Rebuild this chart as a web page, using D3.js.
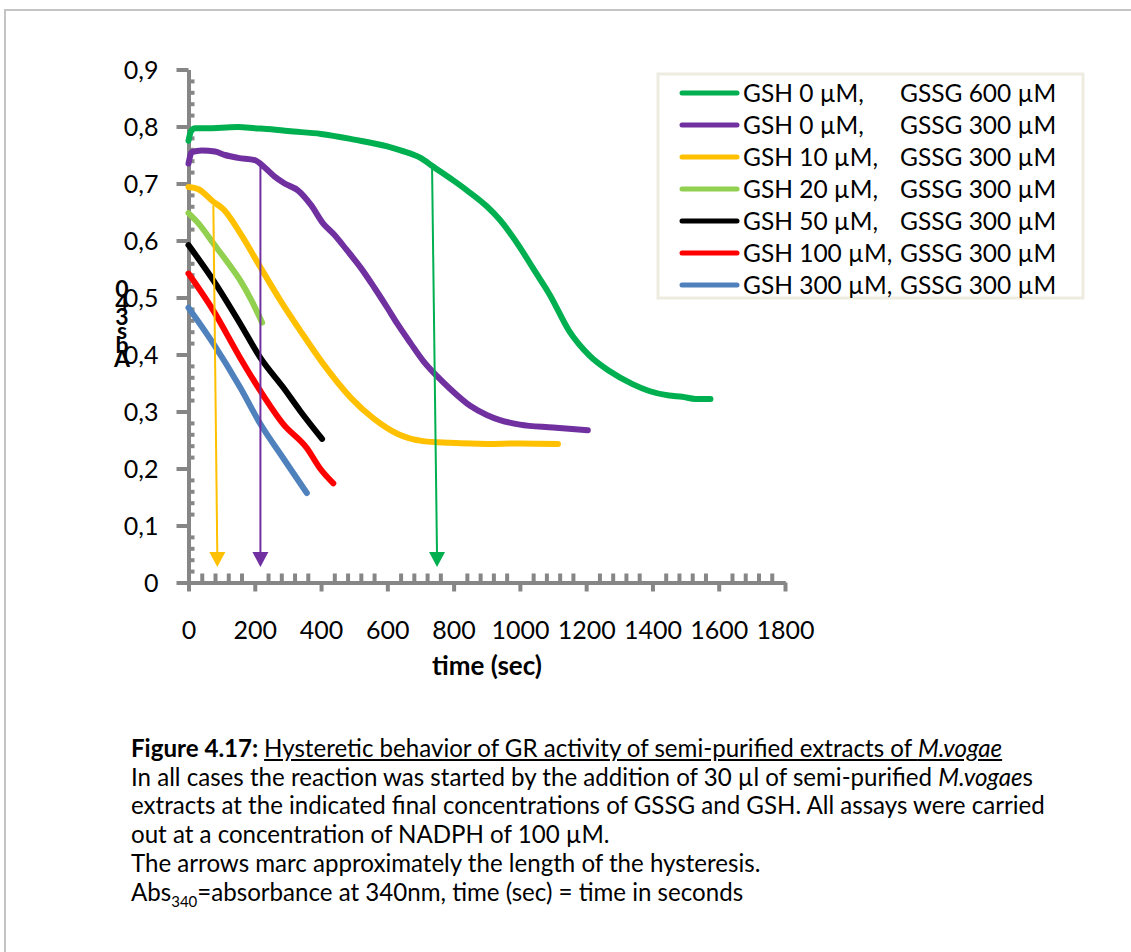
<!DOCTYPE html>
<meta charset="utf-8">
<style>
body {
  margin: 0;
  font-family: Lato, "Open Sans", sans-serif;
  background: #fff;
}

.axis path, .axis line {
  stroke: #868686;
  stroke-width: 4;
}

.caption {
  position: absolute;
  left: 131px;
  top: 734px;
  font-size: 24.1px;
  line-height: 28.7px;
  white-space: nowrap;
}
</style>
<body>
<script src="https://cdn.jsdelivr.net/npm/d3@7/dist/d3.min.js"></script>
<script>

var width = 1131,
    height = 952;

// absorbance readings (Abs340) against time in seconds
var greenT  = [0, 8, 20, 60, 100, 150, 200, 250, 300, 400, 500, 600, 640, 700, 740, 800, 840, 900, 940, 1000, 1040, 1090, 1150, 1210, 1270, 1340, 1390, 1450, 1490, 1530, 1575];
var greenV  = [0.775, 0.792, 0.797, 0.797, 0.798, 0.799, 0.797, 0.795, 0.792, 0.787, 0.777, 0.765, 0.758, 0.745, 0.729, 0.705, 0.688, 0.66, 0.636, 0.588, 0.551, 0.505, 0.44, 0.398, 0.371, 0.348, 0.336, 0.328, 0.326, 0.322, 0.322];

var purpleT = [0, 10, 40, 80, 110, 150, 200, 230, 260, 290, 330, 370, 406, 440, 478, 520, 560, 600, 630, 670, 708, 750, 789, 850, 900, 940, 1000, 1100, 1205];
var purpleV = [0.735, 0.755, 0.758, 0.756, 0.750, 0.745, 0.741, 0.728, 0.712, 0.700, 0.688, 0.662, 0.630, 0.610, 0.583, 0.552, 0.518, 0.482, 0.454, 0.420, 0.389, 0.362, 0.340, 0.310, 0.294, 0.285, 0.277, 0.272, 0.267];

var yellowT = [0, 30, 75, 105, 156, 217, 277, 337, 406, 490, 560, 630, 708, 789, 900, 1000, 1115];
var yellowV = [0.694, 0.690, 0.668, 0.655, 0.613, 0.553, 0.495, 0.442, 0.384, 0.324, 0.287, 0.261, 0.248, 0.245, 0.243, 0.244, 0.243];

var lgreenT = [0, 30, 75, 120, 156, 190, 222];
var lgreenV = [0.648, 0.630, 0.595, 0.560, 0.530, 0.495, 0.456];

var blackT  = [0, 75, 156, 217, 286, 337, 403];
var blackV  = [0.592, 0.530, 0.454, 0.394, 0.342, 0.301, 0.252];

var redT    = [0, 75, 156, 217, 286, 357, 397, 437];
var redV    = [0.542, 0.477, 0.394, 0.336, 0.278, 0.236, 0.200, 0.174];

var blueT   = [0, 75, 156, 217, 286, 357];
var blueV   = [0.482, 0.419, 0.342, 0.278, 0.218, 0.157];

var seriesNames = [
  ["GSH 0 \u00b5M,", "GSSG 600 \u00b5M"],
  ["GSH 0 \u00b5M,", "GSSG 300 \u00b5M"],
  ["GSH 10 \u00b5M,", "GSSG 300 \u00b5M"],
  ["GSH 20 \u00b5M,", "GSSG 300 \u00b5M"],
  ["GSH 50 \u00b5M,", "GSSG 300 \u00b5M"],
  ["GSH 100 \u00b5M,", "GSSG 300 \u00b5M"],
  ["GSH 300 \u00b5M,", "GSSG 300 \u00b5M"]
];
var seriesColors = ["#00b050", "#7030a0", "#ffc000", "#92d050", "#000000", "#ff0000", "#4f81bd"];

// hysteresis arrows: start (time, value) on the curve, end time at the axis
var arrowColors = ["#ffc000", "#7030a0", "#00b050"];
var arrowT0 = [75, 217, 735];
var arrowV0 = [0.662, 0.732, 0.727];
var arrowT1 = [87, 217, 750];
var arrowTipV = 0.027;

var xTicks = [0, 200, 400, 600, 800, 1000, 1200, 1400, 1600, 1800];
var yTicks = [0, 0.1, 0.2, 0.3, 0.4, 0.5, 0.6, 0.7, 0.8, 0.9];

var series = [
  [greenT, greenV], [purpleT, purpleV], [yellowT, yellowV], [lgreenT, lgreenV],
  [blackT, blackV], [redT, redV], [blueT, blueV]
].map(function(s, i) {
  return {
    color: seriesColors[i],
    name: seriesNames[i],
    values: s[0].map(function(t, j) { return {t: t, v: s[1][j]}; })
  };
});

var x = d3.scaleLinear().domain([0, 1800]).range([188.5, 785]);
var y = d3.scaleLinear().domain([0, 0.9]).range([582.5, 69.5]);

var svg = d3.select("body").append("svg")
    .attr("width", width)
    .attr("height", height)
    .style("position", "absolute")
    .style("left", 0)
    .style("top", 0);

// page frame (top and left edge visible)
svg.append("path")
    .attr("d", "M5," + height + "V10H" + width)
    .style("fill", "none")
    .style("stroke", "#c4c4c4")
    .style("stroke-width", 2);

var comma = function(d) { return d === 0 ? "0" : d3.format(".1f")(d).replace(".", ","); };

// minor ticks first, inside the plot
svg.append("g")
    .attr("class", "axis")
    .attr("transform", "translate(0," + y(0) + ")")
    .call(d3.axisBottom(x)
      .tickValues(d3.range(40, 1800, 40).filter(function(d) { return d % 200 !== 0; }))
      .tickSizeInner(-9).tickSizeOuter(0).tickFormat(""));

svg.append("g")
    .attr("class", "axis")
    .attr("transform", "translate(" + x(0) + ",0)")
    .call(d3.axisLeft(y)
      .tickValues(d3.range(1, 45).map(function(d) { return d / 50; }).filter(function(d) { return Math.round(d * 50) % 5 !== 0; }))
      .tickSizeInner(-6).tickSizeOuter(0).tickFormat(""));

var xAxis = svg.append("g")
    .attr("class", "axis")
    .attr("transform", "translate(0," + y(0) + ")")
    .call(d3.axisBottom(x).tickValues(xTicks).tickSizeInner(9).tickSizeOuter(0).tickFormat(d3.format("d")));

xAxis.selectAll("text")
    .attr("y", 56)
    .attr("dy", 0)
    .style("font-family", "Lato")
    .style("font-size", "25px")
    .style("fill", "#000");

var yAxis = svg.append("g")
    .attr("class", "axis")
    .attr("transform", "translate(" + x(0) + ",0)")
    .call(d3.axisLeft(y).tickValues(yTicks).tickSizeInner(12).tickSizeOuter(0).tickFormat(comma));

yAxis.selectAll("text")
    .attr("x", -30)
    .attr("dy", "0.36em")
    .style("font-family", "Lato")
    .style("font-size", "25px")
    .style("fill", "#000");

// axis titles
svg.append("text")
    .attr("x", 487)
    .attr("y", 675)
    .attr("text-anchor", "middle")
    .style("font-size", "26px")
    .style("font-weight", "bold")
    .text("time (sec)");

// the y title collapsed into a stack of letters, bottom to top
svg.append("g").selectAll("text")
    .data("Abs340".split(""))
  .enter().append("text")
    .attr("x", 122)
    .attr("y", function(d, i) { return 367 - i * 14; })
    .attr("text-anchor", "middle")
    .style("font-size", "23px")
    .style("font-weight", "bold")
    .text(function(d) { return d; });

var line = d3.line()
    .x(function(d) { return x(d.t); })
    .y(function(d) { return y(d.v); })
    .curve(d3.curveMonotoneX);

svg.append("g").selectAll("path")
    .data(series)
  .enter().append("path")
    .attr("d", function(d) { return line(d.values); })
    .style("fill", "none")
    .style("stroke", function(d) { return d.color; })
    .style("stroke-width", 6)
    .style("stroke-linecap", "round")
    .style("stroke-linejoin", "round");

// arrows
var arrows = svg.append("g").selectAll("g")
    .data(arrowColors)
  .enter().append("g");

arrows.append("line")
    .attr("x1", function(d, i) { return x(arrowT0[i]); })
    .attr("y1", function(d, i) { return y(arrowV0[i]); })
    .attr("x2", function(d, i) { return x(arrowT1[i]); })
    .attr("y2", y(arrowTipV) - 10)
    .style("stroke", function(d) { return d; })
    .style("stroke-width", 2);

arrows.append("path")
    .attr("d", function(d, i) {
      var tx = x(arrowT1[i]), ty = y(arrowTipV);
      return "M" + tx + "," + ty + "L" + (tx - 8) + "," + (ty - 15) + "L" + (tx + 8) + "," + (ty - 15) + "Z";
    })
    .style("fill", function(d) { return d; });

// legend
var legend = svg.append("g");

legend.append("rect")
    .attr("x", 658)
    .attr("y", 74)
    .attr("width", 425)
    .attr("height", 224)
    .style("fill", "#fff")
    .style("stroke", "#eeece1")
    .style("stroke-width", 3);

var rows = legend.selectAll(".row")
    .data(series)
  .enter().append("g")
    .attr("class", "row")
    .attr("transform", function(d, i) { return "translate(0," + (93 + i * 32) + ")"; });

rows.append("line")
    .attr("x1", 682)
    .attr("x2", 737)
    .style("stroke", function(d) { return d.color; })
    .style("stroke-width", 5)
    .style("stroke-linecap", "round");

rows.append("text")
    .attr("x", 743)
    .attr("dy", "0.36em")
    .style("font-size", "24.5px")
    .text(function(d) { return d.name[0]; });

rows.append("text")
    .attr("x", 900)
    .attr("dy", "0.36em")
    .style("font-size", "24.5px")
    .text(function(d) { return d.name[1]; });

// caption below the chart
var cap = d3.select("body").append("div").attr("class", "caption");

var l1 = cap.append("div");
l1.append("b").text("Figure 4.17: ");
var u = l1.append("u");
u.append("span").text("Hysteretic behavior of GR activity of semi-purified extracts of ");
u.append("i").text("M.vogae");

var l2 = cap.append("div");
l2.append("span").text("In all cases the reaction was started by the addition of 30 \u00b5l of semi-purified ");
l2.append("i").text("M.vogae");
l2.append("span").text("s");

cap.append("div").text("extracts at the indicated final concentrations of GSSG and GSH. All assays were carried");
cap.append("div").text("out at a concentration of NADPH of 100 \u00b5M.");
cap.append("div").text("The arrows marc approximately the length of the hysteresis.");

var l6 = cap.append("div");
l6.append("span").text("Abs");
l6.append("sub").style("font-size", "15px").style("line-height", 0).text("340");
l6.append("span").text("=absorbance at 340nm, time (sec) = time in seconds");

</script>
